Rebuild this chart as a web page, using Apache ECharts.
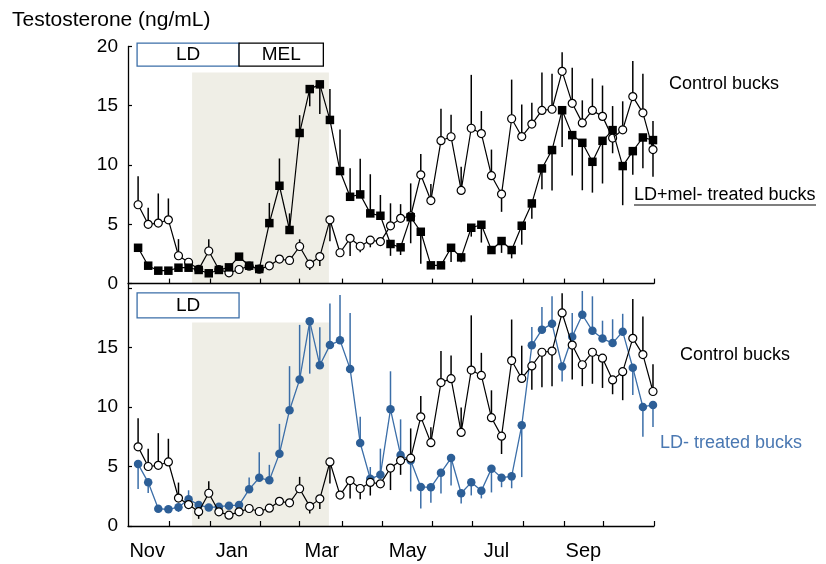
<!DOCTYPE html>
<html>
<head>
<meta charset="utf-8">
<script src="https://cdn.jsdelivr.net/npm/echarts@6/dist/echarts.min.js"></script>
<style>html,body{margin:0;padding:0;background:#fff}#c{width:826px;height:564px}</style>
</head>
<body>
<div id="c"></div>
<script>
// ---- data (weekly samples, index 0..51) ----
const control = [6.65,5.0,5.1,5.38,2.35,1.8,1.2,2.75,1.19,0.91,1.19,1.47,1.22,1.5,2.07,1.95,3.13,1.65,2.28,5.38,2.6,3.82,3.15,3.66,3.54,4.87,5.5,5.7,9.17,7.0,12.05,12.38,7.86,13.1,12.65,9.1,7.55,13.9,12.4,13.45,14.6,14.7,17.9,15.2,13.55,14.6,14.1,12.27,12.97,15.77,14.4,11.3];
const ldMel = [3.02,1.51,1.09,1.09,1.34,1.34,1.15,0.87,1.15,1.37,2.27,1.51,1.23,5.1,8.25,4.52,12.7,16.4,16.8,13.8,9.49,7.32,7.52,5.92,5.72,3.34,3.06,5.6,4.37,1.54,1.54,3.02,2.21,4.71,4.96,2.83,3.59,2.83,4.88,6.76,9.71,11.26,14.62,12.52,11.87,10.27,12.04,12.94,9.91,11.17,12.32,12.1];
const ldOnly = [5.2,3.67,1.45,1.4,1.58,2.25,1.77,1.55,1.62,1.71,1.76,3.08,4.05,3.84,6.08,9.73,12.3,17.2,13.5,15.2,15.6,13.2,6.97,3.96,4.3,9.8,5.96,5.5,3.28,3.25,4.48,5.71,2.75,3.67,2.97,4.82,4.06,4.17,8.46,15.18,16.5,17.0,13.4,15.9,17.75,16.4,15.75,15.37,16.33,13.3,10.0,10.17];
// signed SEM (positive = bar drawn upward, negative = downward, 0 = not visible)
const ctrlSemTop = [2.4,1.4,2.5,1.8,1.4,0,0,1.0,0,0,0,0,0,0,0,0,0.6,-0.5,-0.8,-1.8,0,-1.5,-0.5,-0.6,0,1.9,1.2,2.75,1.75,1.4,2.7,1.85,2.0,4.5,1.9,2.2,-1.5,3.3,2.7,1.8,3.2,3.0,1.6,3.0,1.9,2.7,2.6,2.7,2.4,3.0,3.3,2.4];
const ldMelSem = [0,0,0,0,0,0,0,0,0,0,0,0,0,1.7,2.3,1.4,1.5,-1.45,-2.5,2.6,3.5,2.4,3.0,3.3,1.75,-1.0,-0.65,-2.2,-2.7,0,0,-1.2,-0.4,-0.75,-1.5,0,-1.0,-0.7,-1.6,-1.3,-1.75,-3.4,-3.1,-3.4,-4.0,-2.6,-3.6,-1.95,-3.3,-2.0,-2.6,-3.1];
const ctrlSemBottom = [2.4,1.5,2.7,1.95,1.3,0,-0.6,1.0,0,0,0,0,0,0,0,0,1.0,-0.6,-0.85,-1.8,0,-1.5,-0.9,-1.1,0,-1.85,-1.2,2.5,1.75,1.3,2.65,1.95,2.1,4.6,1.9,2.3,-1.5,3.45,2.75,-2.0,-2.95,-2.95,1.65,-2.9,-1.8,-2.65,-2.5,-1.2,-2.4,3.3,3.2,2.3];
const ldOnlySem = [-2.1,-0.9,0,0,-0.4,0.75,0,0,0,0,0,1.0,2.15,1.3,2.5,3.7,4.6,-4.4,3.2,3.5,3.8,4.7,2.2,1.0,2.2,3.2,3.0,-2.6,-1.8,-1.3,-1.75,-2.3,-0.85,-1.1,-0.65,-2.0,-0.8,-1.0,-4.35,1.55,1.9,2.3,-1.25,2.0,2.0,2.9,1.5,2.0,1.5,-2.3,-2.5,-1.85];
// axis ticks / labels (in week-index units)
const monthTicks = [3.1,7.1,12.1,16.0,20.2,24.2,29.1,33.1,38.1,42.2,46.1,51.1];
const monthLabelPos = [0.9,9.3,18.2,26.7,35.5,44.1];
const monthLabels = ['Nov','Jan','Mar','May','Jul','Sep'];
const yTicks = [0,5,10,15,20];

const FONT = 'Liberation Sans, Arial, Helvetica, sans-serif';
const BLUE = '#2d5f97';
const BLUE_LINE = '#3b6ea8';
const WINTER = '#efeee6';

const chart = echarts.init(document.getElementById('c'), null, {renderer:'canvas'});

function errSeries(gi, vals, sems, color) {
  return {
    type:'custom', xAxisIndex:gi, yAxisIndex:gi, z:1, silent:true, clip:false,
    data: vals.map((v,i)=>[i, v, sems[i]]),
    encode:{x:0, y:1},
    renderItem:(params, api)=>{
      const x = api.value(0), y = api.value(1), s = api.value(2);
      if (!s) return null;
      const p1 = api.coord([x,y]), p2 = api.coord([x,y+s]);
      return {type:'line', shape:{x1:p1[0],y1:p1[1],x2:p2[0],y2:p2[1]}, style:{stroke:color, lineWidth:1.5}};
    }
  };
}
function winterSeries(gi, top) {
  return {
    type:'custom', xAxisIndex:gi, yAxisIndex:gi, z:0, silent:true,
    data:[[5.35, 18.9, top]],
    renderItem:(params, api)=>{
      const a = api.coord([api.value(0), 0]);
      const b = api.coord([api.value(1), api.value(2)]);
      return {type:'rect', shape:{x:a[0], y:b[1], width:b[0]-a[0], height:a[1]-b[1]}, style:{fill:WINTER}};
    }
  };
}
function boxSeries(gi, boxes) {
  return {
    type:'custom', xAxisIndex:gi, yAxisIndex:gi, z:5, silent:true, clip:false,
    data: boxes.map(b=>[b.x0, b.y0, b.x1, b.y1]),
    renderItem:(params, api)=>{
      const b = boxes[params.dataIndex];
      const a = api.coord([api.value(0), api.value(1)]);
      const c = api.coord([api.value(2), api.value(3)]);
      return {type:'group', children:[
        {type:'rect', shape:{x:a[0], y:c[1], width:c[0]-a[0], height:a[1]-c[1]},
         style:{fill:'#fff', stroke:b.color, lineWidth:1.3}},
        {type:'text', style:{text:b.label, x:(a[0]+c[0])/2, y:(a[1]+c[1])/2, align:'center', verticalAlign:'middle',
          font:'19px ' + FONT, fill:'#000'}}
      ]};
    }
  };
}

const xBase = {
  type:'value', min:-1, max:51.1,
  axisLine:{show:true, onZero:false, lineStyle:{color:'#000', width:1.3}},
  axisTick:{show:true, inside:true, length:5, customValues:monthTicks, lineStyle:{color:'#000', width:1.2}},
  splitLine:{show:false}
};
const yBase = {
  type:'value', min:0, interval:5,
  axisLine:{show:true, onZero:false, lineStyle:{color:'#000', width:1.3}},
  axisTick:{show:true, inside:true, length:4, lineStyle:{color:'#000', width:1.2}},
  splitLine:{show:false}
};

const option = {
  animation:false,
  backgroundColor:'#fff',
  grid:[
    {left:128, right:172, top:46.4, bottom:280.4},
    {left:128, right:172, top:284.4, bottom:38}
  ],
  xAxis:[
    Object.assign({}, xBase, {gridIndex:0, axisLabel:{show:false}}),
    Object.assign({}, xBase, {gridIndex:1, axisLabel:{show:true, customValues:monthLabelPos, margin:15,
      fontSize:20, fontFamily:FONT, color:'#000',
      formatter:(v)=>{let k=0,d=1e9;monthLabelPos.forEach((p,i)=>{if(Math.abs(p-v)<d){d=Math.abs(p-v);k=i;}});return monthLabels[k];}}})
  ],
  yAxis:[
    Object.assign({}, yBase, {gridIndex:0, max:20, axisLabel:{fontSize:19, fontFamily:FONT, color:'#000', margin:10,
      customValues:yTicks}}),
    Object.assign({}, yBase, {gridIndex:1, max:20.3, axisLabel:{fontSize:19, fontFamily:FONT, color:'#000', margin:10,
      customValues:yTicks.filter(v=>v<20)}, axisTick:Object.assign({}, yBase.axisTick, {customValues:yTicks})})
  ],
  series:[
    winterSeries(0, 17.8),
    winterSeries(1, 17.1),
    errSeries(0, control, ctrlSemTop, '#000'),
    errSeries(0, ldMel, ldMelSem, '#000'),
    errSeries(1, ldOnly, ldOnlySem, BLUE_LINE),
    errSeries(1, control, ctrlSemBottom, '#000'),
    {type:'line', name:'Control bucks', xAxisIndex:0, yAxisIndex:0, z:3,
     data:control.map((v,i)=>[i,v]), symbol:'circle', symbolSize:8, showAllSymbol:true,
     lineStyle:{color:'#000', width:1.2}, itemStyle:{color:'#fff', borderColor:'#000', borderWidth:1.2}},
    {type:'line', name:'LD+mel- treated bucks', xAxisIndex:0, yAxisIndex:0, z:4,
     data:ldMel.map((v,i)=>[i,v]), symbol:'rect', symbolSize:8.5, showAllSymbol:true,
     lineStyle:{color:'#000', width:1.2}, itemStyle:{color:'#000'}},
    {type:'line', name:'LD- treated bucks', xAxisIndex:1, yAxisIndex:1, z:3,
     data:ldOnly.map((v,i)=>[i,v]), symbol:'circle', symbolSize:8.5, showAllSymbol:true,
     lineStyle:{color:BLUE_LINE, width:1.3}, itemStyle:{color:BLUE}},
    {type:'line', name:'Control bucks (2)', xAxisIndex:1, yAxisIndex:1, z:4,
     data:control.map((v,i)=>[i,v]), symbol:'circle', symbolSize:8, showAllSymbol:true,
     lineStyle:{color:'#000', width:1.2}, itemStyle:{color:'#fff', borderColor:'#000', borderWidth:1.2}},
    boxSeries(0, [
      {x0:-0.1, x1:10.0, y0:18.33, y1:20.27, label:'LD', color:BLUE_LINE},
      {x0:10.0, x1:18.35, y0:18.33, y1:20.27, label:'MEL', color:'#000'}
    ]),
    boxSeries(1, [
      {x0:-0.1, x1:10.0, y0:17.48, y1:19.58, label:'LD', color:BLUE_LINE}
    ])
  ],
  graphic:[
    {type:'text', left:12, top:10, style:{text:'Testosterone (ng/mL)', font:'21px ' + FONT, fill:'#000'}},
    {type:'text', left:195, top:88, style:{text:'Winter', font:'18px ' + FONT, fill:'#111'}},
    {type:'text', left:195, top:343, style:{text:'Winter', font:'18px ' + FONT, fill:'#111'}},
    {type:'text', left:669, top:75, style:{text:'Control bucks', font:'18px ' + FONT, fill:'#000'}},
    {type:'text', left:634, top:186, style:{text:'LD+mel- treated bucks', font:'18px ' + FONT, fill:'#000'}},
    {type:'line', shape:{x1:634, y1:205, x2:816, y2:205}, style:{stroke:'#000', lineWidth:1.2}},
    {type:'text', left:680, top:346, style:{text:'Control bucks', font:'18px ' + FONT, fill:'#000'}},
    {type:'text', left:660, top:434, style:{text:'LD- treated bucks', font:'18px ' + FONT, fill:'#4a78b2'}}
  ]
};
chart.setOption(option);
</script>
</body>
</html>
